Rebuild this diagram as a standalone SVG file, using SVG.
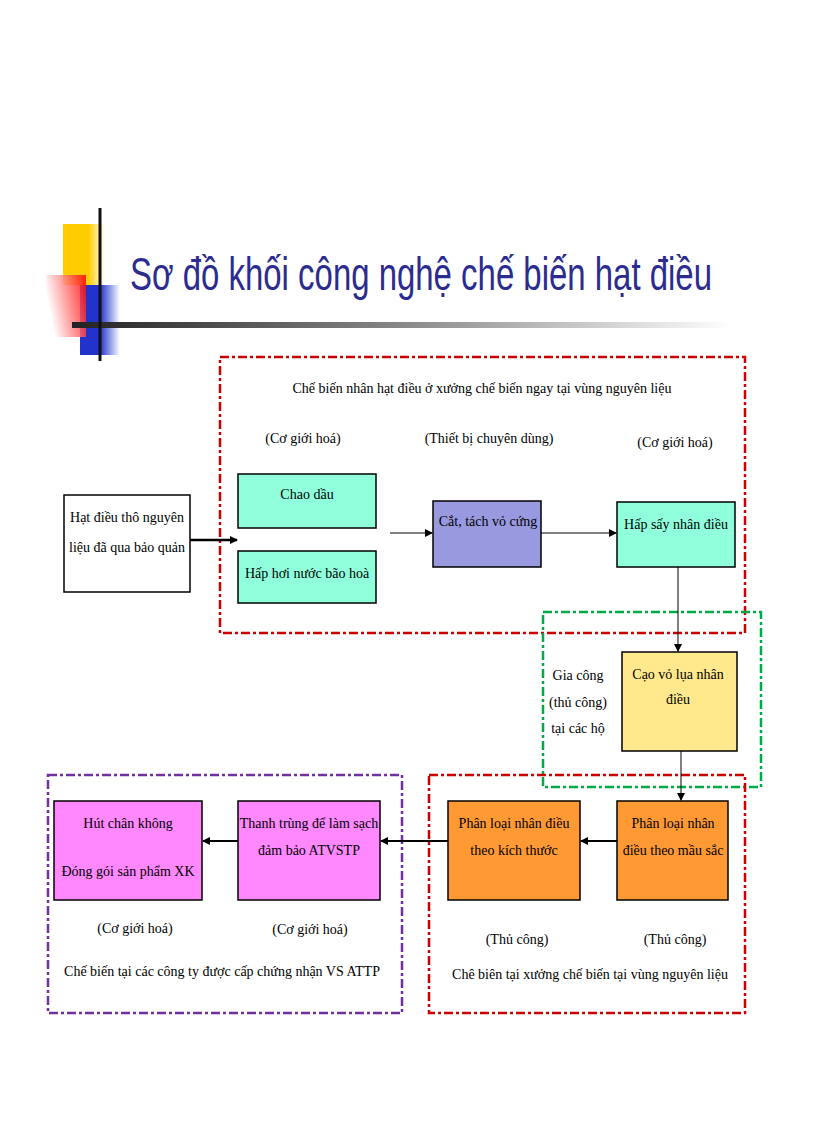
<svg xmlns="http://www.w3.org/2000/svg" width="816" height="1123" viewBox="0 0 816 1123">
<defs>
<linearGradient id="hl" x1="0" x2="1" y1="0" y2="0"><stop offset="0" stop-color="#222"/><stop offset="0.5" stop-color="#888"/><stop offset="1" stop-color="#fff"/></linearGradient>
<linearGradient id="rg" x1="1" x2="0" y1="0" y2="0.3"><stop offset="0" stop-color="#f00"/><stop offset="1" stop-color="#fff"/></linearGradient>
<linearGradient id="bg" x1="0" x2="1"><stop offset="0.5" stop-color="#2233cc"/><stop offset="1" stop-color="#fff"/></linearGradient>
<linearGradient id="yg" x1="0" x2="1"><stop offset="0.6" stop-color="#ffcc00"/><stop offset="1" stop-color="#fff"/></linearGradient>
<marker id="ah" markerWidth="8" markerHeight="8" refX="7" refY="4" orient="auto" markerUnits="userSpaceOnUse"><path d="M0,0 L8,4 L0,8 z" fill="#000"/></marker>
</defs>
<style>
.t{font-family:"Liberation Serif",serif;font-size:14px;fill:#000;text-anchor:middle}
.b{stroke:#000;stroke-width:1.5}
.cy{fill:#8fffdc}.or{fill:#ff9933}.mg{fill:#ff88ff}
.dd{fill:none;stroke-width:2.5;stroke-dasharray:9 3 3 3}
.c{stroke:#000;fill:none}
</style>
<rect width="816" height="1123" fill="#fff"/>
<g id="deco">
<rect x="63" y="224" width="42" height="61" fill="url(#yg)"/>
<rect x="80" y="285" width="40" height="70" fill="url(#bg)"/>
<rect x="46" y="275" width="40" height="62" fill="url(#rg)" opacity="0.85"/>
<rect x="72" y="322" width="660" height="6" fill="url(#hl)"/>
<line x1="100" y1="208" x2="100" y2="361" stroke="#111" stroke-width="3"/>
</g>
<text x="130" y="290" font-family="Liberation Sans,sans-serif" font-size="46" fill="#2b2b90" textLength="582" lengthAdjust="spacingAndGlyphs">Sơ đồ khối công nghệ chế biến hạt điều</text>
<g id="groups">
<rect x="220" y="357" width="525" height="276" class="dd" stroke="#cc0000"/>
<rect x="543" y="612" width="218" height="175" class="dd" stroke="#00aa44"/>
<rect x="429" y="775" width="316" height="238" class="dd" stroke="#cc0000"/>
<rect x="48" y="775" width="354" height="238" class="dd" stroke="#7030a0"/>
</g>
<text class="t" x="482" y="393">Chế biến nhân hạt điều ở xưởng chế biến ngay tại vùng nguyên  liệu</text>
<text class="t" x="303" y="443">(Cơ giới hoá)</text>
<text class="t" x="489" y="443">(Thiết bị chuyên dùng)</text>
<text class="t" x="675" y="447">(Cơ giới hoá)</text>
<g id="n1"><rect x="64" y="495" width="126" height="97" fill="#fff" class="b"/><text class="t" x="127" y="522">Hạt điều thô nguyên</text><text class="t" x="127" y="552">liệu đã qua bảo quản</text></g>
<g id="n2"><rect x="238" y="474" width="138" height="54" class="b cy"/><text class="t" x="307" y="499">Chao dầu</text></g>
<g id="n3"><rect x="238" y="551" width="138" height="52" class="b cy"/><text class="t" x="307" y="578">Hấp hơi nước bão hoà</text></g>
<g id="n4"><rect x="433" y="501" width="108" height="66" class="b" fill="#9999e0"/><text class="t" x="488" y="526">Cắt, tách vỏ cứng</text></g>
<g id="n5"><rect x="617" y="502" width="118" height="65" class="b cy"/><text class="t" x="676" y="529">Hấp sấy nhân điều</text></g>
<g id="n6"><rect x="622" y="652" width="115" height="99" class="b" fill="#ffe98c"/><text class="t" x="678" y="679">Cạo vỏ lụa nhân</text><text class="t" x="678" y="704">điều</text></g>
<text class="t" x="578" y="680">Gia công</text><text class="t" x="578" y="707">(thủ công)</text><text class="t" x="578" y="733">tại các hộ</text>
<g id="n7"><rect x="617" y="801" width="111" height="99" class="b or"/><text class="t" x="673" y="828">Phân loại nhân</text><text class="t" x="673" y="855">điều theo mầu sắc</text></g>
<g id="n8"><rect x="448" y="801" width="132" height="99" class="b or"/><text class="t" x="514" y="828">Phân loại nhân điều</text><text class="t" x="514" y="855">theo kích thước</text></g>
<g id="n9"><rect x="238" y="801" width="142" height="99" class="b mg"/><text class="t" x="309" y="828">Thanh trùng để làm sạch</text><text class="t" x="309" y="855">đảm bảo ATVSTP</text></g>
<g id="n10"><rect x="54" y="801" width="148" height="99" class="b mg"/><text class="t" x="128" y="828">Hút chân không</text><text class="t" x="128" y="876">Đóng gói sản phẩm XK</text></g>
<text class="t" x="135" y="933">(Cơ giới hoá)</text>
<text class="t" x="310" y="934">(Cơ giới hoá)</text>
<text class="t" x="517" y="944">(Thủ công)</text>
<text class="t" x="675" y="944">(Thủ công)</text>
<text class="t" x="222" y="976">Chế biến tại các công ty được cấp chứng nhận VS ATTP</text>
<text class="t" x="590" y="979">Chê biên tại xưởng chế biến tại vùng nguyên liệu</text>
<g id="connectors" marker-end="url(#ah)">
<line class="c" x1="190" y1="540" x2="237" y2="540" stroke-width="2.5" marker-end="url(#ah)"/>
<line class="c" x1="390" y1="533" x2="432" y2="533" marker-end="url(#ah)"/>
<line class="c" x1="541" y1="533" x2="616" y2="533" marker-end="url(#ah)"/>
<line class="c" x1="678" y1="567" x2="678" y2="651" marker-end="url(#ah)"/>
<line class="c" x1="681" y1="751" x2="681" y2="800" marker-end="url(#ah)"/>
<line class="c" x1="617" y1="841" x2="581" y2="841" stroke-width="2" marker-end="url(#ah)"/>
<line class="c" x1="448" y1="841" x2="381" y2="841" stroke-width="2" marker-end="url(#ah)"/>
<line class="c" x1="238" y1="841" x2="203" y2="841" stroke-width="2" marker-end="url(#ah)"/>
</g>
</svg>
